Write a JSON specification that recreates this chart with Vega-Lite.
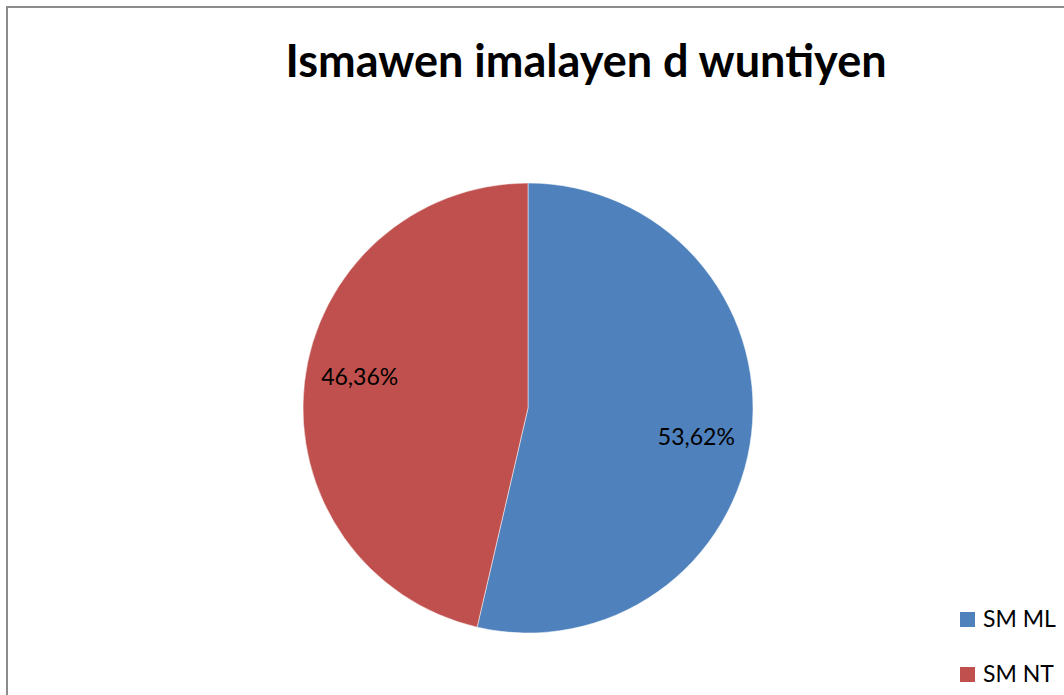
{
  "$schema": "https://vega.github.io/schema/vega-lite/v6.json",
  "width": 1040,
  "height": 574,
  "autosize": "none",
  "padding": {"left": 8, "top": 121, "right": 16, "bottom": 0},
  "background": "white",
  "title": {"text": "Ismawen imalayen d wuntiyen", "font": "Lato", "fontSize": 45, "fontWeight": "bold", "color": "#000000", "anchor": "middle", "frame": "group", "dx": 58, "offset": -80},
  "config": {"view": {"stroke": null}},
  "datasets": {
    "slices": [
      {"category": "SM ML", "value": 53.62, "label": "53,62%"},
      {"category": "SM NT", "value": 46.36, "label": "46,36%"}
    ]
  },
  "layer": [
    {
      "data": {"values": [{}]},
      "mark": {"type": "rule", "stroke": "#8c8c8c", "strokeWidth": 2},
      "encoding": {"x": {"value": -1}, "y": {"value": -114}, "y2": {"value": 574}}
    },
    {
      "data": {"values": [{}]},
      "mark": {"type": "rule", "stroke": "#8c8c8c", "strokeWidth": 2},
      "encoding": {"x": {"value": -2}, "x2": {"value": 1056}, "y": {"value": -114}}
    },
    {
      "data": {"name": "slices"},
      "mark": {"type": "arc", "outerRadius": 225, "stroke": "white", "strokeWidth": 0.5},
      "encoding": {
        "theta": {"field": "value", "type": "quantitative", "stack": true},
        "order": {"field": "category", "type": "nominal", "sort": "ascending"},
        "color": {
          "field": "category", "type": "nominal",
          "scale": {"domain": ["SM ML", "SM NT"], "range": ["#4F81BD", "#C0504D"]},
          "legend": {"title": null, "orient": "none", "legendX": 948, "legendY": 487, "labelFont": "Lato", "labelFontSize": 23, "labelColor": "#000000", "symbolType": "square", "symbolSize": 225, "symbolStrokeWidth": 0, "rowPadding": 31, "labelOffset": 4, "padding": 0}
        }
      }
    },
    {
      "data": {"name": "slices"},
      "mark": {"type": "text", "radius": 171, "thetaOffset": 0.063, "font": "Lato", "fontSize": 23, "color": "#000000"},
      "encoding": {
        "theta": {"field": "value", "type": "quantitative", "stack": true},
        "order": {"field": "category", "type": "nominal", "sort": "ascending"},
        "detail": {"field": "category", "type": "nominal"},
        "text": {"field": "label", "type": "nominal"}
      }
    }
  ]
}
